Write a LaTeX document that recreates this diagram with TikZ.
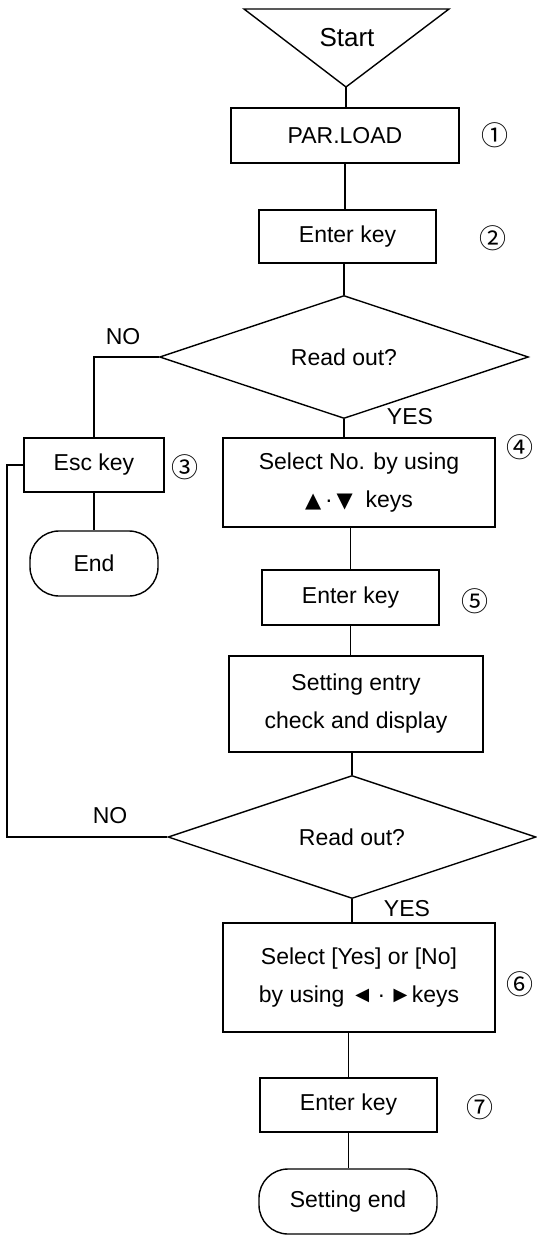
\documentclass[tikz,border=0pt]{standalone}
\usepackage{fontspec}
\setmainfont{Liberation Sans}
\newfontfamily\circfont{Noto Sans CJK JP}
\newfontfamily\keyfont{DejaVu Sans}
\usetikzlibrary{shapes.geometric}
\tikzset{
  flowtext/.style={font=\fontsize{23}{38}\selectfont},
  stepbox/.style={draw,line width=1.4pt,inner sep=0pt,align=center,flowtext},
  termbox/.style={stepbox,rounded corners=29pt},
  decision/.style={draw,diamond,line width=1.4pt,inner sep=0pt,flowtext},
  stepnum/.style={font=\circfont\fontsize{27}{27}\selectfont,inner sep=0pt},
  branch/.style={flowtext}
}
\newcommand{\keysym}[1]{{\keyfont\fontsize{21}{21}\selectfont\char"#1}}

\begin{document}
\begin{tikzpicture}[x=1pt,y=-1pt,line width=1.4pt]
\useasboundingbox (0,0) rectangle (536,1236);
% start marker
\coordinate (startL) at (244,9);
\coordinate (startR) at (449,9);
\coordinate (startTip) at (346,87);
\draw (startL) -- (startR) -- (startTip) -- cycle;
\node[font=\fontsize{26}{26}\selectfont] (start) at (347,38) {Start};

% main column
\node[stepbox,minimum width=228,minimum height=55] (parload) at (345,135.5) {PAR.LOAD};
\node[stepbox,minimum width=177,minimum height=53] (enterA) at (347.5,236.5) {Enter key};
\node[decision,minimum width=369,minimum height=99] (readA) at (344,357) {Read out?};
\node[stepbox,minimum width=272,minimum height=89] (selno) at (359,482.5) {Select No. by using\\\keysym{25B2}\,\char"00B7\,\keysym{25BC}\ \ keys};
\node[stepbox,minimum width=177,minimum height=55] (enterB) at (350.5,597.5) {Enter key};
\node[stepbox,minimum width=254,minimum height=96] (check) at (356,704) {Setting entry\\check and display};
\node[decision,minimum width=368,minimum height=98] (readB) at (352,837) {Read out?};
\node[stepbox,minimum width=272,minimum height=109] (selyes) at (359,977.5) {Select [Yes] or [No]\\by using \char"25C4\,\char"00B7\,\char"25BA keys};
\node[stepbox,minimum width=177,minimum height=54] (enterC) at (348.5,1105) {Enter key};
\node[termbox,minimum width=178,minimum height=65] (setend) at (348,1201.5) {Setting end};

% escape column
\node[stepbox,minimum width=140,minimum height=54] (esc) at (94,465) {Esc key};
\node[termbox,minimum width=128,minimum height=65] (endA) at (94,563.5) {End};

% step numbers
\node[stepnum] (numA) at (495,135) {①};
\node[stepnum] (numB) at (493,238) {②};
\node[stepnum] (numC) at (185,467) {③};
\node[stepnum] (numD) at (520,447) {④};
\node[stepnum] (numE) at (475,601) {⑤};
\node[stepnum] (numF) at (520,984) {⑥};
\node[stepnum] (numG) at (480,1107) {⑦};

% branch labels
\node[branch] (noA) at (123,337) {NO};
\node[branch] (yesA) at (410,417) {YES};
\node[branch] (noB) at (110,816) {NO};
\node[branch] (yesB) at (407,909) {YES};

% connectors
\draw (startTip) -- (startTip |- parload.north);
\draw (parload.south) -- (parload.south |- enterA.north);
\draw (readA.north |- enterA.south) -- (readA.north);
\draw (readA.west) -- (esc.north |- readA.west) -- (esc.north);
\draw (esc.south) -- (endA.north);
\draw (readA.south) -- (readA.south |- selno.north);
\draw (enterB.north |- selno.south) -- (enterB.north);
\draw (enterB.south) -- (enterB.south |- check.north);
\draw (readB.north |- check.south) -- (readB.north);
\coordinate (loopL) at (7,837);
\draw (readB.west) -- (loopL) |- (esc.west);
\draw (readB.south) -- (readB.south |- selyes.north);
\draw (enterC.north |- selyes.south) -- (enterC.north);
\draw (enterC.south) -- (enterC.south |- setend.north);
\end{tikzpicture}
\end{document}
